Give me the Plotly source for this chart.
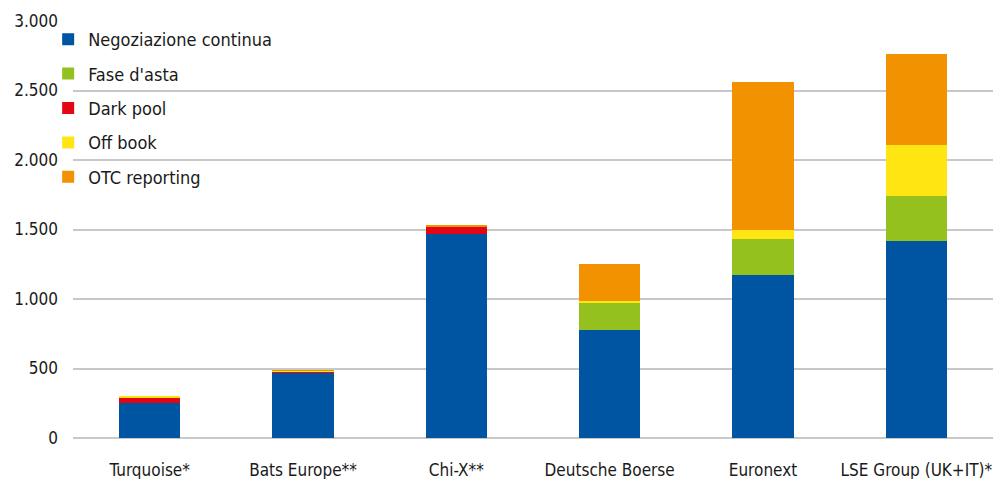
import plotly.graph_objects as go

categories = ["Turquoise*", "Bats Europe**", "Chi-X**", "Deutsche Boerse", "Euronext", "LSE Group (UK+IT)*"]
negoziazione = [250, 468, 1465, 775, 1170, 1415]
fase_asta = [0, 0, 0, 200, 265, 325]
dark_pool = [40, 8, 55, 0, 0, 0]
off_book = [8, 8, 0, 8, 60, 365]
otc = [0, 3, 12, 272, 1065, 655]

series = [
    ("Negoziazione continua", negoziazione, "#0055A2"),
    ("Fase d'asta", fase_asta, "#95C11F"),
    ("Dark pool", dark_pool, "#E30613"),
    ("Off book", off_book, "#FFE512"),
    ("OTC reporting", otc, "#F39200"),
]

FONT = "DejaVu Sans Condensed, Roboto, sans-serif"

fig = go.Figure()
for i, (name, vals, col) in enumerate(series):
    fig.add_trace(go.Bar(
        x=categories, y=vals, name=name, legendgroup=str(i),
        marker=dict(color=col, line=dict(width=0)),
        width=0.4,
    ))

fig.update_layout(
    barmode="stack",
    width=993, height=479,
    margin=dict(l=73, r=0, t=21, b=41),
    plot_bgcolor="white", paper_bgcolor="white",
    separators=",.",
    font=dict(family=FONT, size=17, color="#1a1a1a"),
    legend=dict(x=-0.027, y=1.0, xanchor="left", yanchor="top", traceorder="grouped",
                tracegroupgap=8, bgcolor="rgba(0,0,0,0)", font=dict(size=18)),
    bargap=0.6,
)
fig.update_yaxes(range=[0, 3000], dtick=500, tickformat=",d", showgrid=True,
                 gridcolor="#c8c8c8", gridwidth=1.5, zeroline=True, zerolinecolor="#c8c8c8",
                 zerolinewidth=1.5, showline=False, ticks="", ticklabelstandoff=14)
fig.update_xaxes(showgrid=False, showline=False, ticks="", ticklabelstandoff=20)

fig.write_html("out.html")
